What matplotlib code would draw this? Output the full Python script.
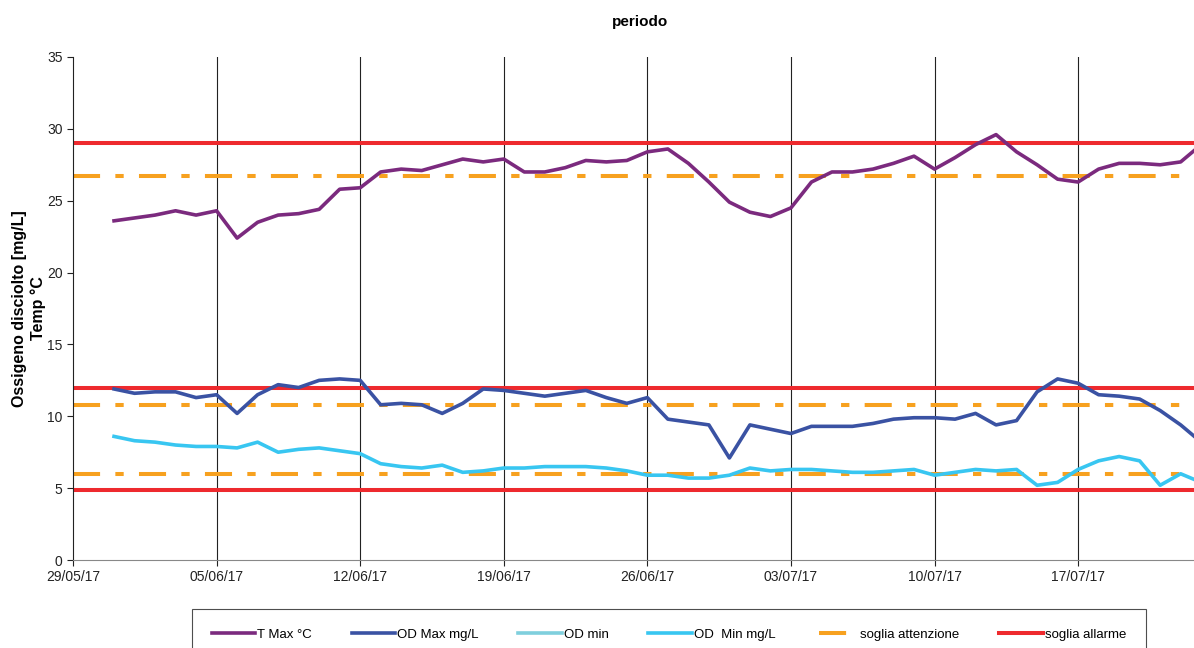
import matplotlib
matplotlib.use("Agg")
import matplotlib.pyplot as plt
import matplotlib.dates as mdates
from matplotlib.lines import Line2D
import numpy as np
import pandas as pd

plt.rcParams['font.family'] = ['Liberation Sans', 'DejaVu Sans']
plt.rcParams['lines.scale_dashes'] = False

# daily readings, 31/05/17 .. 23/07/17
start_date = "2017-05-31"
t_max = [23.6, 23.8, 24.0, 24.3, 24.0, 24.3, 22.4, 23.5, 24.0, 24.1, 24.4, 25.8,
         25.9, 27.0, 27.2, 27.1, 27.5, 27.9, 27.7, 27.9, 27.0, 27.0, 27.3, 27.8,
         27.7, 27.8, 28.4, 28.6, 27.6, 26.3, 24.9, 24.2, 23.9, 24.5, 26.3, 27.0,
         27.0, 27.2, 27.6, 28.1, 27.2, 28.0, 28.9, 29.6, 28.4, 27.5, 26.5, 26.3,
         27.2, 27.6, 27.6, 27.5, 27.7, 28.9]
od_max = [11.9, 11.6, 11.7, 11.7, 11.3, 11.5, 10.2, 11.5, 12.2, 12.0, 12.5, 12.6,
          12.5, 10.8, 10.9, 10.8, 10.2, 10.9, 11.9, 11.8, 11.6, 11.4, 11.6, 11.8,
          11.3, 10.9, 11.3, 9.8, 9.6, 9.4, 7.1, 9.4, 9.1, 8.8, 9.3, 9.3,
          9.3, 9.5, 9.8, 9.9, 9.9, 9.8, 10.2, 9.4, 9.7, 11.7, 12.6, 12.3,
          11.5, 11.4, 11.2, 10.4, 9.4, 8.2]
od_min_mgl = [8.6, 8.3, 8.2, 8.0, 7.9, 7.9, 7.8, 8.2, 7.5, 7.7, 7.8, 7.6,
              7.4, 6.7, 6.5, 6.4, 6.6, 6.1, 6.2, 6.4, 6.4, 6.5, 6.5, 6.5,
              6.4, 6.2, 5.9, 5.9, 5.7, 5.7, 5.9, 6.4, 6.2, 6.3, 6.3, 6.2,
              6.1, 6.1, 6.2, 6.3, 5.9, 6.1, 6.3, 6.2, 6.3, 5.2, 5.4, 6.3,
              6.9, 7.2, 6.9, 5.2, 6.0, 5.4]
od_min = []  # empty series, only in the legend

soglia_attenzione = [26.7, 10.8, 6.0]
soglia_allarme = [29.0, 12.0, 4.85]

x_ticks = pd.date_range("2017-05-29", periods=8, freq="7D")
x_end = x_ticks[0] + pd.Timedelta(days=54.65)

dates = pd.date_range(start_date, periods=len(t_max), freq="D")

fig = plt.figure(figsize=(11.94, 6.48), dpi=100)
ax = fig.add_axes([73 / 1194, 1 - 560 / 648, 1 - 73 / 1194, (560 - 57) / 648])

c_att = "#F7A11F"
c_all = "#EE2A2E"
dash_att = (19.5, 11, 6, 11)

# vertical weekly lines
for d in x_ticks[1:]:
    ax.axvline(d, color="#222222", lw=0.8, zorder=1)

for v in soglia_attenzione:
    ax.axhline(v, color=c_att, lw=2.9, dashes=dash_att, zorder=2)
for v in soglia_allarme:
    ax.axhline(v, color=c_all, lw=2.9, zorder=2)

ax.plot(dates, t_max, color="#7B2A7E", lw=2.6, zorder=3, label="T Max °C")
ax.plot(dates, od_max, color="#3A52A3", lw=2.6, zorder=3, label="OD Max mg/L")
ax.plot(dates[:len(od_min)], od_min, color="#7FCFDD", lw=2.6, zorder=3, label="OD min")
ax.plot(dates, od_min_mgl, color="#38C6F1", lw=2.6, zorder=3, label="OD  Min mg/L")

ax.set_xlim(x_ticks[0], x_end)
ax.set_ylim(0, 35)
ax.set_yticks(np.arange(0, 36, 5))
ax.set_xticks(x_ticks)
ax.xaxis.set_major_formatter(mdates.DateFormatter("%d/%m/%y"))
ax.tick_params(labelsize=10, length=4, width=0.8, colors="#222222")
for s in ["top", "right"]:
    ax.spines[s].set_visible(False)
ax.spines["left"].set_color("#222222")
ax.spines["bottom"].set_color("#888888")

fig.text(640 / 1194, 1 - 22 / 648, "periodo", fontsize=11, fontweight="bold",
         ha="center", va="center")
ax.set_ylabel("Ossigeno disciolto [mg/L]\nTemp °C", fontsize=11.5, fontweight="bold",
              labelpad=1)

# legend
handles, labels = ax.get_legend_handles_labels()
handles.append(Line2D([], [], color=c_att, lw=2.9, ls=(44.6, dash_att)))
labels.append("soglia attenzione")
handles.append(Line2D([], [], color=c_all, lw=2.9))
labels.append("soglia allarme")
leg = fig.legend(handles, labels, loc="upper left",
                 bbox_to_anchor=(192 / 1194, 1 - 609 / 648), ncol=6, fontsize=9.5,
                 frameon=True, fancybox=False, edgecolor="#222222", handlelength=3.3,
                 handletextpad=0.15, columnspacing=3.0, borderpad=1.5,
                 borderaxespad=0)
leg.get_frame().set_linewidth(0.8)

fig.savefig("out.png", dpi=100)
